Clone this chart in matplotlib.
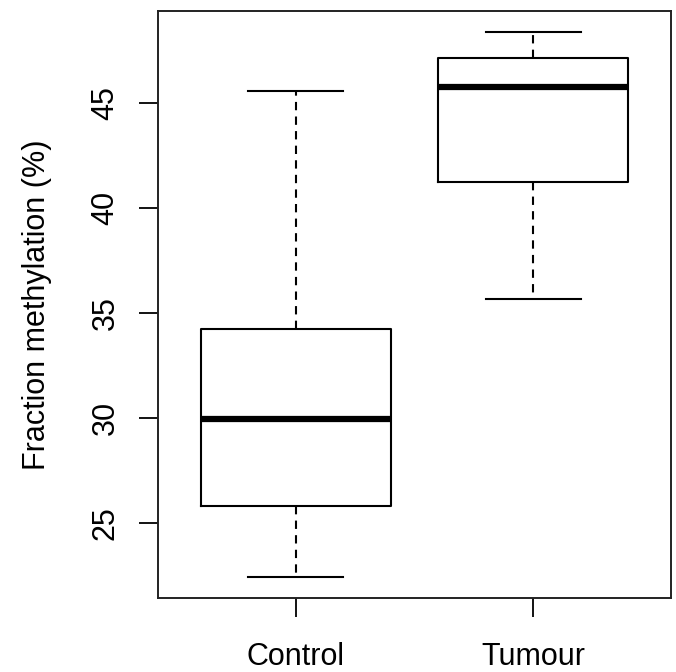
import matplotlib
matplotlib.use("Agg")
import matplotlib.pyplot as plt

plt.rcParams['font.family'] = ['Liberation Sans', 'DejaVu Sans']

groups = ["Control", "Tumour"]
whislo = [22.43, 35.67]
q1 = [25.81, 41.24]
med = [29.95, 45.76]
q3 = [34.24, 47.14]
whishi = [45.57, 48.38]
yticks = [25, 30, 35, 40, 45]

stats = []
for i, g in enumerate(groups):
    stats.append({"label": g, "whislo": whislo[i], "q1": q1[i], "med": med[i],
                  "q3": q3[i], "whishi": whishi[i], "fliers": []})

fig = plt.figure(figsize=(6.76, 6.72), dpi=100)
ax = fig.add_axes([158/676, 74/672, 513/676, 587/672])

ax.bxp(stats, positions=[1, 2], widths=0.8, capwidths=0.4, showfliers=False,
       boxprops=dict(color="black", linewidth=1.5),
       medianprops=dict(color="black", linewidth=4.5, solid_capstyle="butt"),
       whiskerprops=dict(color="black", linewidth=1.5, linestyle=(0, (4, 3))),
       capprops=dict(color="black", linewidth=1.5))

ax.set_xlim(0.42, 2.58)
ax.set_ylim(21.43, 49.38)
ax.set_yticks(yticks)
ax.set_yticklabels([str(t) for t in yticks], rotation=90, va="center", fontsize=22)
ax.set_xticks([1, 2])
ax.set_xticklabels(groups, fontsize=22)
ax.tick_params(axis="both", length=14, width=1.3, color="black")
ax.tick_params(axis="x", pad=18)
ax.tick_params(axis="y", pad=13)
ax.set_ylabel("Fraction methylation (%)", fontsize=22, labelpad=28)

for s in ax.spines.values():
    s.set_linewidth(1.4)
    s.set_color("#222222")

fig.savefig("out.png", dpi=100)
